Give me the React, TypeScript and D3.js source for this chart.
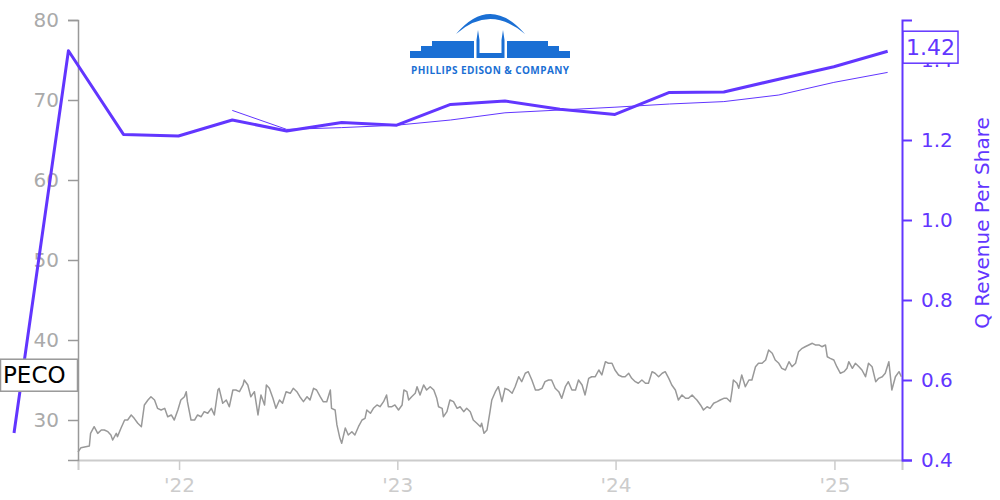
import React, { useEffect, useRef } from "react";
import * as d3 from "d3";

// ---- Data ----
const ticker = "PECO";
const rightAxisTitle = "Q Revenue Per Share";
const companyName = "PHILLIPS EDISON & COMPANY";

const priceSeries: [string, number][] = [
  ["2021-07-16", 26.0], ["2021-07-21", 26.54], ["2021-07-29", 26.66], ["2021-08-04", 26.75],
  ["2021-08-06", 28.33], ["2021-08-12", 29.16], ["2021-08-18", 28.33], ["2021-08-24", 28.75],
  ["2021-08-29", 28.75], ["2021-09-04", 28.54], ["2021-09-09", 28.13], ["2021-09-12", 27.5],
  ["2021-09-18", 28.33], ["2021-09-20", 27.92], ["2021-09-26", 29.0], ["2021-10-02", 30.0],
  ["2021-10-07", 30.0], ["2021-10-13", 30.63], ["2021-10-18", 30.21], ["2021-10-24", 29.59],
  ["2021-10-30", 29.16], ["2021-11-04", 31.88], ["2021-11-10", 32.5], ["2021-11-15", 32.91],
  ["2021-11-21", 32.5], ["2021-11-26", 31.46], ["2021-12-02", 31.25], ["2021-12-08", 31.46],
  ["2021-12-13", 30.41], ["2021-12-19", 30.63], ["2021-12-24", 30.0], ["2021-12-30", 31.25],
  ["2022-01-04", 32.5], ["2022-01-10", 32.91], ["2022-01-13", 33.54], ["2022-01-15", 32.29],
  ["2022-01-21", 30.0], ["2022-01-27", 30.0], ["2022-02-01", 30.63], ["2022-02-07", 30.41],
  ["2022-02-12", 31.04], ["2022-02-18", 30.84], ["2022-02-24", 31.46], ["2022-03-01", 30.63],
  ["2022-03-07", 33.75], ["2022-03-09", 33.96], ["2022-03-15", 32.09], ["2022-03-21", 32.5],
  ["2022-03-26", 31.66], ["2022-04-01", 33.75], ["2022-04-06", 33.75], ["2022-04-12", 33.54],
  ["2022-04-18", 34.38], ["2022-04-20", 35.0], ["2022-04-26", 34.38], ["2022-05-01", 32.91],
  ["2022-05-07", 33.54], ["2022-05-13", 30.63], ["2022-05-18", 33.13], ["2022-05-24", 31.88],
  ["2022-05-27", 34.38], ["2022-06-01", 33.96], ["2022-06-07", 32.71], ["2022-06-12", 31.46],
  ["2022-06-18", 32.5], ["2022-06-23", 32.09], ["2022-06-29", 33.54], ["2022-07-06", 33.34],
  ["2022-07-11", 33.96], ["2022-07-17", 33.54], ["2022-07-22", 32.91], ["2022-07-28", 32.29],
  ["2022-08-03", 32.91], ["2022-08-08", 32.5], ["2022-08-14", 33.96], ["2022-08-19", 33.75],
  ["2022-08-25", 32.91], ["2022-08-30", 32.29], ["2022-09-05", 32.29], ["2022-09-11", 33.75],
  ["2022-09-13", 31.46], ["2022-09-19", 31.25], ["2022-09-22", 29.38], ["2022-09-27", 27.71],
  ["2022-09-30", 27.09], ["2022-10-06", 29.0], ["2022-10-11", 28.13], ["2022-10-17", 28.54],
  ["2022-10-22", 28.13], ["2022-10-28", 29.16], ["2022-11-03", 30.0], ["2022-11-08", 30.21],
  ["2022-11-11", 31.25], ["2022-11-17", 30.84], ["2022-11-22", 31.46], ["2022-11-28", 31.88],
  ["2022-12-03", 31.66], ["2022-12-09", 32.29], ["2022-12-14", 33.13], ["2022-12-17", 31.66],
  ["2022-12-23", 31.66], ["2022-12-28", 31.88], ["2023-01-03", 31.25], ["2023-01-09", 31.88],
  ["2023-01-12", 33.75], ["2023-01-17", 33.54], ["2023-01-20", 32.5], ["2023-01-25", 32.91],
  ["2023-01-31", 33.34], ["2023-02-03", 34.16], ["2023-02-08", 33.13], ["2023-02-14", 34.38],
  ["2023-02-19", 33.75], ["2023-02-25", 34.16], ["2023-03-03", 33.75], ["2023-03-08", 32.71],
  ["2023-03-11", 31.66], ["2023-03-17", 31.46], ["2023-03-19", 30.41], ["2023-03-25", 31.04],
  ["2023-03-30", 32.5], ["2023-04-05", 32.29], ["2023-04-11", 31.46], ["2023-04-16", 31.66],
  ["2023-04-22", 31.04], ["2023-04-27", 31.46], ["2023-05-03", 31.04], ["2023-05-08", 30.0],
  ["2023-05-14", 29.59], ["2023-05-20", 29.16], ["2023-05-22", 29.59], ["2023-05-26", 28.33],
  ["2023-05-31", 28.75], ["2023-06-05", 31.04], ["2023-06-08", 32.5], ["2023-06-14", 33.54],
  ["2023-06-19", 34.16], ["2023-06-25", 32.29], ["2023-06-30", 33.96], ["2023-07-06", 33.75],
  ["2023-07-12", 33.34], ["2023-07-17", 34.16], ["2023-07-23", 35.41], ["2023-07-28", 34.79],
  ["2023-08-03", 35.84], ["2023-08-08", 36.04], ["2023-08-14", 35.0], ["2023-08-20", 33.75],
  ["2023-08-25", 33.75], ["2023-08-31", 33.96], ["2023-09-05", 34.79], ["2023-09-11", 35.0],
  ["2023-09-16", 35.0], ["2023-09-22", 33.96], ["2023-09-28", 33.54], ["2023-10-03", 32.71],
  ["2023-10-09", 34.16], ["2023-10-14", 34.79], ["2023-10-20", 33.75], ["2023-10-26", 33.75],
  ["2023-10-31", 35.0], ["2023-11-06", 34.38], ["2023-11-11", 33.13], ["2023-11-17", 35.21],
  ["2023-11-22", 35.41], ["2023-11-28", 35.41], ["2023-12-04", 36.25], ["2023-12-09", 35.63],
  ["2023-12-15", 37.29], ["2023-12-20", 37.09], ["2023-12-26", 37.09], ["2023-12-31", 36.25],
  ["2024-01-06", 35.63], ["2024-01-12", 35.41], ["2024-01-17", 35.41], ["2024-01-23", 35.84],
  ["2024-01-28", 35.21], ["2024-02-03", 34.79], ["2024-02-08", 34.59], ["2024-02-14", 35.0],
  ["2024-02-20", 34.59], ["2024-02-25", 34.59], ["2024-03-02", 36.04], ["2024-03-07", 35.84],
  ["2024-03-13", 35.41], ["2024-03-19", 35.84], ["2024-03-24", 36.04], ["2024-03-30", 35.21],
  ["2024-04-04", 34.38], ["2024-04-10", 33.75], ["2024-04-15", 32.5], ["2024-04-21", 33.13],
  ["2024-04-27", 32.71], ["2024-05-02", 32.71], ["2024-05-08", 33.13], ["2024-05-13", 32.71],
  ["2024-05-16", 32.5], ["2024-05-22", 31.88], ["2024-05-27", 31.25], ["2024-06-02", 31.66],
  ["2024-06-07", 31.46], ["2024-06-13", 32.09], ["2024-06-19", 32.29], ["2024-06-24", 32.5],
  ["2024-06-30", 32.71], ["2024-07-05", 32.71], ["2024-07-11", 32.29], ["2024-07-14", 33.75],
  ["2024-07-16", 35.0], ["2024-07-22", 34.59], ["2024-07-25", 33.96], ["2024-07-30", 35.63],
  ["2024-08-05", 34.16], ["2024-08-11", 35.0], ["2024-08-16", 35.0], ["2024-08-22", 36.66],
  ["2024-08-27", 37.09], ["2024-09-02", 37.09], ["2024-09-08", 37.5], ["2024-09-13", 38.75],
  ["2024-09-19", 38.34], ["2024-09-24", 37.5], ["2024-09-30", 37.09], ["2024-10-05", 36.46],
  ["2024-10-11", 36.25], ["2024-10-17", 37.29], ["2024-10-22", 36.66], ["2024-10-28", 37.09],
  ["2024-11-02", 38.54], ["2024-11-08", 38.96], ["2024-11-13", 39.16], ["2024-11-19", 39.38],
  ["2024-11-25", 39.59], ["2024-11-30", 39.38], ["2024-12-06", 39.38], ["2024-12-11", 39.16],
  ["2024-12-17", 39.38], ["2024-12-20", 37.91], ["2024-12-25", 37.71], ["2024-12-31", 37.5],
  ["2025-01-05", 36.66], ["2025-01-11", 35.84], ["2025-01-17", 36.04], ["2025-01-22", 36.46],
  ["2025-01-25", 37.29], ["2025-01-31", 36.46], ["2025-02-05", 37.09], ["2025-02-11", 36.66],
  ["2025-02-16", 36.25], ["2025-02-22", 35.41], ["2025-02-27", 37.09], ["2025-03-05", 36.66],
  ["2025-03-11", 34.79], ["2025-03-16", 35.21], ["2025-03-22", 35.41], ["2025-03-27", 35.84],
  ["2025-04-02", 37.29], ["2025-04-07", 33.75], ["2025-04-13", 35.41], ["2025-04-19", 36.04],
  ["2025-04-23", 35.41],
];

const quarterDates = [
  "2021-03-31", "2021-06-30", "2021-09-30", "2021-12-31",
  "2022-03-31", "2022-06-30", "2022-09-30", "2022-12-31",
  "2023-03-31", "2023-06-30", "2023-09-30", "2023-12-31",
  "2024-03-31", "2024-06-30", "2024-09-30", "2024-12-31",
  "2025-03-31",
];
const qRevenuePerShare = [
  0.4675, 1.423, 1.214, 1.21,
  1.25, 1.2225, 1.244, 1.237,
  1.289, 1.2975, 1.277, 1.264,
  1.319, 1.32, 1.352, 1.383,
  1.422,
];

const ttmDates = [
  "2022-03-31", "2022-06-30", "2022-09-30", "2022-12-31",
  "2023-03-31", "2023-06-30", "2023-09-30", "2023-12-31",
  "2024-03-31", "2024-06-30", "2024-09-30", "2024-12-31",
  "2025-03-31",
];
const ttmAvgRevenuePerShare = [
  1.274, 1.2265, 1.231, 1.237,
  1.25, 1.268, 1.275, 1.282,
  1.29, 1.296, 1.3125, 1.344,
  1.369,
];

const leftTicks = [30, 40, 50, 60, 70, 80];
const rightTicks = [0.4, 0.6, 0.8, 1.0, 1.2, 1.4];
const xTickDates = ["2022-01-01", "2023-01-01", "2024-01-01", "2025-01-01"];
const xTickLabels = ["'22", "'23", "'24", "'25"];

const PURPLE = "#6236ff";
const FONT = "DejaVu Sans, sans-serif";

export default function App() {
  const ref = useRef<SVGSVGElement | null>(null);

  useEffect(() => {
    const svg = d3.select(ref.current);
    svg.selectAll("*").remove();
    const parse = d3.timeParse("%Y-%m-%d");

    const price = priceSeries.map(([d, v]) => ({ date: parse(d)!, value: v }));
    const quarters = quarterDates.map((d, i) => ({ date: parse(d)!, value: qRevenuePerShare[i] }));
    const ttm = ttmDates.map((d, i) => ({ date: parse(d)!, value: ttmAvgRevenuePerShare[i] }));

    const left = 78, right = 902, top = 20, bottom = 460;

    const x = d3.scaleTime()
      .domain([parse("2021-07-16")!, parse("2025-04-24")!])
      .range([left, right]);
    const yL = d3.scaleLinear().domain([25, 80]).range([bottom, top]);
    const yR = d3.scaleLinear().domain([0.4, 1.5]).range([bottom, top]);

    // X axis
    const xTickVals = xTickDates.map((d) => parse(d)!);
    const gx = svg.append("g").attr("transform", `translate(0,${bottom})`)
      .call(
        d3.axisBottom(x)
          .tickValues(xTickVals)
          .tickSize(10)
          .tickSizeOuter(10)
          .tickPadding(8)
          .tickFormat((_d, i) => xTickLabels[i])
      );
    gx.select(".domain").attr("stroke", "#cccccc").attr("stroke-width", 2);
    gx.selectAll(".tick line").attr("stroke", "#cccccc").attr("stroke-width", 1.5);
    gx.selectAll(".tick text")
      .attr("fill", "#cccccc")
      .attr("font-size", 20)
      .attr("font-family", FONT);

    // Left axis
    const gl = svg.append("g").attr("transform", `translate(${left},0)`)
      .call(d3.axisLeft(yL).tickValues(leftTicks).tickSize(10).tickSizeOuter(10).tickPadding(9));
    gl.select(".domain").attr("stroke", "#999999").attr("stroke-width", 1.5);
    gl.selectAll(".tick line").attr("stroke", "#999999").attr("stroke-width", 1.5);
    gl.selectAll(".tick text")
      .attr("fill", "#aaaaaa")
      .attr("font-size", 20)
      .attr("font-family", FONT);

    // Right axis
    const gr = svg.append("g").attr("transform", `translate(${right},0)`)
      .call(
        d3.axisRight(yR).tickValues(rightTicks).tickSize(10).tickSizeOuter(10).tickPadding(9)
          .tickFormat(d3.format(".1f"))
      );
    gr.select(".domain").attr("stroke", PURPLE).attr("stroke-width", 2);
    gr.selectAll(".tick line").attr("stroke", PURPLE).attr("stroke-width", 2);
    gr.selectAll(".tick text")
      .attr("fill", PURPLE)
      .attr("font-size", 20)
      .attr("font-family", FONT);

    svg.append("text")
      .attr("transform", `translate(982,223) rotate(-90)`)
      .attr("text-anchor", "middle")
      .attr("dominant-baseline", "central")
      .attr("fill", PURPLE)
      .attr("font-size", 20)
      .attr("font-family", FONT)
      .text(rightAxisTitle);

    // Price line
    const priceLine = d3.line<{ date: Date; value: number }>()
      .x((d) => x(d.date))
      .y((d) => yL(d.value));
    svg.append("path")
      .datum(price)
      .attr("d", priceLine)
      .attr("fill", "none")
      .attr("stroke", "#999999")
      .attr("stroke-width", 1.5)
      .attr("stroke-linejoin", "round");

    // Revenue lines
    const revLine = d3.line<{ date: Date; value: number }>()
      .x((d) => x(d.date))
      .y((d) => yR(d.value));
    svg.append("path")
      .datum(ttm)
      .attr("d", revLine)
      .attr("fill", "none")
      .attr("stroke", PURPLE)
      .attr("stroke-width", 1);
    svg.append("path")
      .datum(quarters)
      .attr("d", revLine)
      .attr("fill", "none")
      .attr("stroke", PURPLE)
      .attr("stroke-width", 3)
      .attr("stroke-linejoin", "round");

    // Ticker label box
    const lastPrice = price[price.length - 1].value;
    const py = yL(lastPrice) - 1.5;
    svg.append("rect")
      .attr("x", 0.5).attr("y", py - 16).attr("width", 77).attr("height", 32)
      .attr("fill", "white").attr("stroke", "#999999").attr("stroke-width", 1.5);
    svg.append("text")
      .attr("x", 3).attr("y", py)
      .attr("dominant-baseline", "central")
      .attr("fill", "black")
      .attr("font-size", 23)
      .attr("font-family", FONT)
      .text(ticker);

    // Last revenue box
    const lastRev = qRevenuePerShare[qRevenuePerShare.length - 1];
    const ry = yR(lastRev) - 4;
    svg.append("rect")
      .attr("x", right + 1).attr("y", ry - 16).attr("width", 55).attr("height", 32)
      .attr("fill", "white").attr("stroke", PURPLE).attr("stroke-width", 1.5);
    svg.append("text")
      .attr("x", right + 28.5).attr("y", ry)
      .attr("text-anchor", "middle")
      .attr("dominant-baseline", "central")
      .attr("fill", PURPLE)
      .attr("font-size", 22)
      .attr("font-family", FONT)
      .text(lastRev.toFixed(2));

    // Logo
    const LOGO = "#1a6fd4";
    const logo = svg.append("g");
    logo.append("path")
      .attr("d", "M456,34 Q490,-6 525,34 Q490,4 456,34 Z")
      .attr("fill", LOGO);
    logo.append("path")
      .attr("d", "M410,58 L410,51 L421,51 L421,46 L432,46 L432,41 L474,41 L474,58 Z")
      .attr("fill", LOGO);
    logo.append("path")
      .attr("d", "M570,58 L570,51 L559,51 L559,46 L548,46 L548,41 L507,41 L507,58 Z")
      .attr("fill", LOGO);
    logo.append("path")
      .attr("d", "M476.5,58 L476.5,40 L478,30 L479.5,40 L479.5,53 L501.5,53 L501.5,40 L503,30 L504.5,40 L504.5,58 Z")
      .attr("fill", LOGO);
    logo.append("text")
      .attr("x", 490).attr("y", 74)
      .attr("text-anchor", "middle")
      .attr("fill", LOGO)
      .attr("font-size", 10)
      .attr("font-weight", "bold")
      .attr("font-family", "Open Sans, DejaVu Sans, sans-serif")
      .attr("textLength", 158)
      .text(companyName);
  }, []);

  return (
    <div style={{ position: "absolute", left: 0, top: 0 }}>
      <svg ref={ref} width={1000} height={500} style={{ display: "block", background: "white" }} />
    </div>
  );
}
